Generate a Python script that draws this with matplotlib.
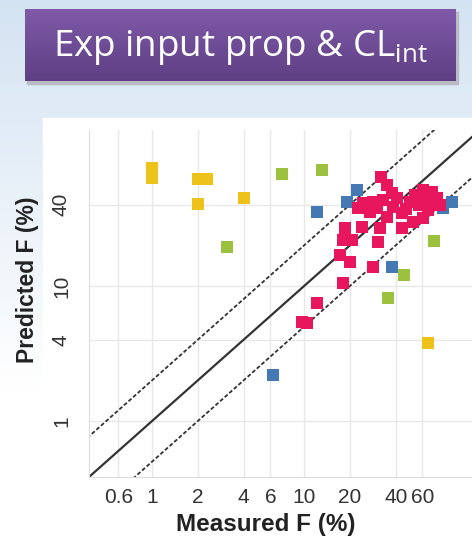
import numpy as np
import matplotlib
matplotlib.use("Agg")
import matplotlib.pyplot as plt
from matplotlib.patches import Rectangle

# measured vs predicted F (%), one group per colour
yellow_measured = [1.0, 1.0, 2.0, 2.3, 2.0, 4.0, 65.5]
yellow_predicted = [74.8, 63.1, 62.1, 62.1, 40.5, 44.9, 3.8]

green_measured = [7.2, 3.1, 13.1, 71.7, 45.5, 35.7]
green_predicted = [67.6, 19.4, 72.3, 21.5, 12.1, 8.2]

blue_measured = [12.2, 22.3, 19.2, 94.2, 82.1, 37.9, 6.2]
blue_predicted = [35.3, 51.4, 41.9, 41.9, 37.8, 13.8, 2.2]

pink_measured = [32.1, 35.2, 37.9, 33.1, 28.4, 24.4, 27.2, 38.5, 44.2, 49.8,
                 53.7, 60.7, 69.5, 75.0, 78.5, 65.5, 60.7, 52.1, 44.2, 35.2,
                 18.6, 24.1, 18.1, 20.7, 30.7, 17.3, 20.1, 28.4, 18.1, 12.2,
                 9.7, 10.5, 31.6, 22.7, 41.0, 47.0, 57.0, 30.0, 63.0]
pink_predicted = [64.2, 56.0, 48.9, 43.4, 41.9, 41.2, 35.3, 38.5, 34.7, 41.9,
                  47.2, 51.4, 49.7, 44.9, 39.8, 36.5, 31.9, 29.8, 26.9, 32.4,
                  26.9, 27.4, 21.9, 21.9, 21.2, 17.0, 15.1, 13.8, 10.5, 7.5,
                  5.4, 5.3, 26.9, 37.8, 45.0, 37.0, 40.0, 38.0, 44.0]

x_ticks = [0.6, 1, 2, 4, 6, 10, 20, 40, 60]
x_tick_labels = ["0.6", "1", "2", "4", "6", "10", "20", "40", "60"]
y_ticks = [1, 4, 10, 40]
y_tick_labels = ["1", "4", "10", "40"]

W, H = 472, 547
fig = plt.figure(figsize=(W / 100, H / 100), dpi=100)

# slide background: pale blue fading to white
bg = fig.add_axes([0, 0, 1, 1], zorder=-10)
grad = np.linspace(0, 1, 256).reshape(-1, 1)
top_c = np.array([0.83, 0.89, 0.95])
bot_c = np.array([1.0, 1.0, 1.0])
bg_img = top_c + (bot_c - top_c) * np.clip(grad * 1.4, 0, 1)[..., None]
bg.imshow(bg_img, aspect="auto", extent=[0, W, H, 0])
bg.set_xlim(0, W)
bg.set_ylim(H, 0)
bg.axis("off")

# white panel behind the chart
bg.add_patch(Rectangle((43, 118), W - 43, 410, color="white", zorder=2))

# title box with shadow
bg.add_patch(Rectangle((27, 12), 431, 72, color="#b9bcc4", zorder=3))
box = fig.add_axes([25 / W, 1 - 81 / H, 431 / W, 72 / H], zorder=5)
pg = np.linspace(0, 1, 64).reshape(-1, 1)
c1 = np.array([0x7f, 0x5a, 0xa8]) / 255
c2 = np.array([0x5f, 0x3f, 0x84]) / 255
box.imshow(c1 + (c2 - c1) * pg[..., None], aspect="auto", extent=[0, 1, 0, 1])
box.axis("off")
box.text(0.5, 0.47, r"Exp input prop & CL$_\mathregular{int}$", color="white",
         fontsize=26.5, family="Open Sans", ha="center", va="center",
         transform=box.transAxes)

# main scatter axes
ax = fig.add_axes([89 / W, 1 - 477 / H, (W - 89) / W, (477 - 130) / H], zorder=6)
ax.set_facecolor("none")
ax.set_xscale("log")
ax.set_yscale("log")
ax.set_xlim(0.385, 127)
ax.set_ylim(0.385, 143)

# unity line and 2-fold lines
line_x = np.array([0.1, 1000])
ax.plot(line_x, line_x, color="#333333", lw=1.6, zorder=2)
ax.plot(line_x, line_x * 2, color="#333333", lw=1.3, ls=(0, (2.2, 1.2)), zorder=2)
ax.plot(line_x, line_x / 2, color="#333333", lw=1.3, ls=(0, (2.2, 1.2)), zorder=2)

ms = 76
ax.scatter(yellow_measured, yellow_predicted, marker="s", s=ms, color="#EDC31B", lw=0, zorder=3)
ax.scatter(green_measured, green_predicted, marker="s", s=ms, color="#9CC13F", lw=0, zorder=3)
ax.scatter(blue_measured, blue_predicted, marker="s", s=ms, color="#4479B4", lw=0, zorder=3)
ax.scatter(pink_measured, pink_predicted, marker="s", s=ms, color="#E8175D", lw=0, zorder=4)

ax.set_xticks(x_ticks)
ax.set_xticklabels(x_tick_labels)
ax.set_yticks(y_ticks)
ax.set_yticklabels(y_tick_labels, rotation=90, va="center")
ax.minorticks_off()
ax.tick_params(length=0, labelsize=15, colors="#333333")
ax.tick_params(axis="x", pad=8)
ax.tick_params(axis="y", pad=13)
for lab in ax.get_xticklabels() + ax.get_yticklabels():
    lab.set_family("Liberation Sans")
ax.grid(True, color="#e8e8e8", lw=1.0)
ax.set_axisbelow(True)
for side in ["top", "right"]:
    ax.spines[side].set_visible(False)
for side in ["left", "bottom"]:
    ax.spines[side].set_color("#dddddd")

ax.set_xlabel("Measured F (%)", fontsize=17.5, fontweight="bold",
              family="Liberation Sans", color="#222222")
ax.set_ylabel("Predicted F (%)", fontsize=16.5, fontweight="bold",
              family="Liberation Sans", color="#222222")
ax.xaxis.set_label_coords(0.462, -0.105)
ax.yaxis.set_label_coords(-0.13, 0.568)

fig.savefig("out.png", dpi=100)
